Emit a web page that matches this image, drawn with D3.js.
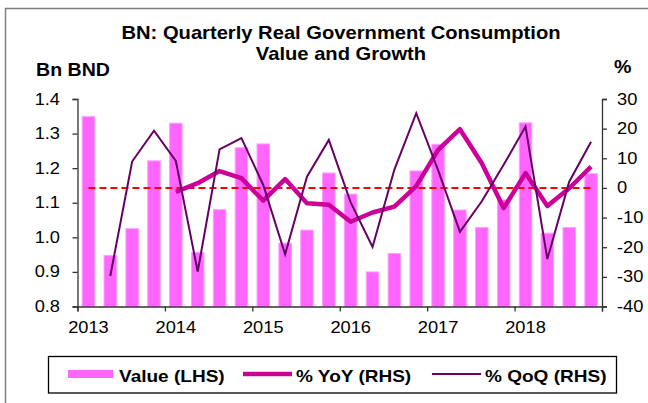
<!DOCTYPE html>
<html>
<head>
<meta charset="utf-8">
<script src="https://cdn.jsdelivr.net/npm/d3@7"></script>
<style>
  body { margin: 0; background: #fff; }
  svg text { font-family: "Liberation Sans", Arial, sans-serif; fill: #000; }
</style>
</head>
<body>
<svg id="chart" width="648" height="403"></svg>
<script>
// quarters 2013Q1 .. 2018Q4
var years = ["2013", "2014", "2015", "2016", "2017", "2018"];
var quarters = [];
years.forEach(function(y) { for (var q = 1; q <= 4; q++) quarters.push(y + "Q" + q); });

// Bn BND (LHS)
var valueLHS = [1.349, 0.947, 1.025, 1.221, 1.330, 0.956, 1.080, 1.259,
                1.270, 0.983, 1.021, 1.186, 1.125, 0.900, 0.953, 1.192,
                1.269, 1.079, 1.028, 1.108, 1.331, 1.012, 1.028, 1.184];
// % YoY (RHS)
var yoy = [null, null, null, null, -1.3, 1.6, 5.7, 3.3,
           -4.3, 3.0, -5.2, -5.7, -11.4, -8.3, -6.3, 0.6,
           12.8, 19.8, 8.3, -6.8, 5.0, -6.1, -0.1, 7.2];
// % QoQ (RHS)
var qoq = [null, -29.7, 8.9, 19.3, 9.1, -28.2, 13.0, 16.8,
           1.0, -22.4, 3.8, 16.2, -4.9, -19.9, 6.2, 25.2,
           6.0, -14.8, -4.5, 7.8, 20.7, -24.0, 2.1, 15.6];

var leftTicks = [0.8, 0.9, 1.0, 1.1, 1.2, 1.3, 1.4];
var rightTicks = [-40, -30, -20, -10, 0, 10, 20, 30];

var SX = 1.12; // text in the picture is a bit wide
var svg = d3.select("#chart");

function label(g, x, y, txt, size, weight, anchor) {
  return g.append("text")
    .attr("transform", "translate(" + x + "," + y + ") scale(" + SX + ",1)")
    .attr("text-anchor", anchor || "start")
    .style("font-size", size + "px")
    .style("font-weight", weight || "normal")
    .text(txt);
}

// outer frame
svg.append("path").attr("d", "M5.5,403 L5.5,8.5 L648,8.5")
  .attr("fill", "none").attr("stroke", "#7f7f7f").attr("stroke-width", 1.5);

// title
label(svg, 341, 38.5, "BN: Quarterly Real Government Consumption", 18, "bold", "middle");
label(svg, 341, 60, "Value and Growth", 18, "bold", "middle");
label(svg, 36, 76, "Bn BND", 17.5, "bold");
label(svg, 614, 73, "%", 17.5, "bold");

// plot area
var x0 = 77.5, x1 = 602, yTop = 99, yBot = 306.5;

var x = d3.scaleBand().domain(quarters).range([x0, x1])
  .paddingInner(0.43).paddingOuter(0.215);
var xi = d3.scaleLinear().domain([0, 24]).range([x0, x1]);
var yL = d3.scaleLinear().domain([0.8, 1.4]).range([yBot, yTop]);
var yR = d3.scaleLinear().domain([-40, 30]).range([yBot, yTop]);
var cx = function(q) { return x(q) + x.bandwidth() / 2; };

// bars
svg.append("g").selectAll("rect")
  .data(valueLHS)
  .enter().append("rect")
  .attr("x", function(d, i) { return x(quarters[i]); })
  .attr("y", function(d) { return yL(d); })
  .attr("width", x.bandwidth())
  .attr("height", function(d) { return yBot - yL(d); })
  .attr("fill", "#ff66ff")
  .attr("stroke", "#ff9cff")
  .attr("stroke-width", 1);

// zero line
svg.append("line")
  .attr("x1", cx(quarters[0])).attr("x2", cx(quarters[23]))
  .attr("y1", yR(0)).attr("y2", yR(0))
  .attr("stroke", "#ff0000").attr("stroke-width", 2)
  .attr("stroke-dasharray", "7,4");

var line = function(vals) {
  return d3.line()
    .defined(function(d) { return d != null; })
    .x(function(d, i) { return cx(quarters[i]); })
    .y(function(d) { return yR(d); })(vals);
};

svg.append("path").attr("d", line(yoy))
  .attr("fill", "none").attr("stroke", "#cc0099").attr("stroke-width", 4.5)
  .attr("stroke-linejoin", "round");
svg.append("path").attr("d", line(qoq))
  .attr("fill", "none").attr("stroke", "#660066").attr("stroke-width", 2)
  .attr("stroke-linejoin", "miter");

// axes
var axL = svg.append("g").attr("transform", "translate(" + x0 + ",0)")
  .call(d3.axisLeft(yL).tickValues(leftTicks).tickSize(5).tickFormat(""));
var axR = svg.append("g").attr("transform", "translate(" + x1 + ",0)")
  .call(d3.axisRight(yR).tickValues(rightTicks).tickSize(5).tickFormat(""));
var axB = svg.append("g").attr("transform", "translate(0," + yBot + ")")
  .call(d3.axisBottom(xi).tickValues(d3.range(0, 25, 4)).tickSize(5).tickFormat(""));
[axL, axR, axB].forEach(function(a) {
  a.select(".domain").attr("stroke", "#333").attr("stroke-width", 1.3);
  a.selectAll(".tick line").attr("stroke", "#333").attr("stroke-width", 1.3);
});

leftTicks.forEach(function(t) {
  label(svg, 60, yL(t) + 5.5, d3.format(".1f")(t), 16.3, "normal", "end");
});
rightTicks.forEach(function(t) {
  label(svg, 617, yR(t) + 5.5, t, 16.3, "normal", "start");
});
years.forEach(function(y) {
  label(svg, cx(y + "Q1"), 333, y, 16.3, "normal", "middle");
});

// legend
var lg = svg.append("g");
lg.append("rect").attr("x", 48.5).attr("y", 356.5).attr("width", 568).attr("height", 36.5)
  .attr("fill", "#fff").attr("stroke", "#000").attr("stroke-width", 1.3);
lg.append("rect").attr("x", 68).attr("y", 370).attr("width", 45).attr("height", 8)
  .attr("fill", "#ff66ff");
label(lg, 119, 382, "Value (LHS)", 17, "bold");
lg.append("line").attr("x1", 243).attr("x2", 292).attr("y1", 374).attr("y2", 374)
  .attr("stroke", "#cc0099").attr("stroke-width", 4.5);
label(lg, 296, 382, "% YoY (RHS)", 17, "bold");
lg.append("line").attr("x1", 432).attr("x2", 481).attr("y1", 374).attr("y2", 374)
  .attr("stroke", "#660066").attr("stroke-width", 2);
label(lg, 485, 382, "% QoQ (RHS)", 17, "bold");
</script>
</body>
</html>
